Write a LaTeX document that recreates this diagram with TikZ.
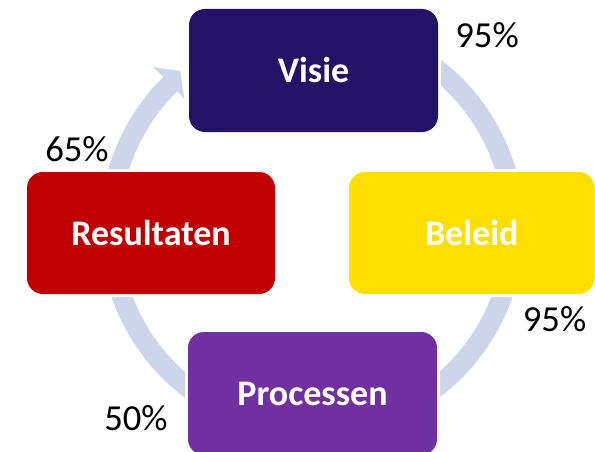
\documentclass[tikz,border=0pt]{standalone}
\usepackage{fontspec}
\setmainfont{Carlito}
\definecolor{visiec}{HTML}{231366}
\definecolor{resc}{HTML}{C00000}
\definecolor{beleidc}{HTML}{FFDF00}
\definecolor{procc}{HTML}{7030A0}
\definecolor{ringc}{HTML}{CED5EA}
\begin{document}
\begin{tikzpicture}[x=0.75pt,y=0.75pt,
  stagebox/.style={rounded corners=12pt, fill=#1, inner sep=0pt,
    preaction={draw=white, line width=4.5pt},
    text=white, font=\fontsize{27}{31}\selectfont\bfseries},
  pct/.style={inner sep=0pt, text=black, font=\fontsize{27.5}{32}\selectfont}]
\useasboundingbox (0,0) rectangle (595,451);
% ring with arrowhead
\fill[ringc, shift={(312,223)}] (100:212) arc[start angle=100, end angle=-225.4, radius=212]
  -- (134.6:226) -- (130:205) -- (134.6:182) -- (134.6:192)
  arc[start angle=-225.4, end angle=100, radius=192] -- cycle;
% boxes
\node[stagebox=visiec, minimum width=249*0.75pt, minimum height=123*0.75pt] (visie) at (313.5,380.5) {Visie};
\node[stagebox=resc, minimum width=248*0.75pt, minimum height=122*0.75pt] (res) at (151,218) {Resultaten};
\node[stagebox=beleidc, minimum width=245.5*0.75pt, minimum height=122*0.75pt] (beleid) at (471.75,218) {Beleid};
\node[stagebox=procc, minimum width=249*0.75pt, minimum height=123*0.75pt] (proc) at (312.5,57.5) {Processen};
% labels
\node[pct] (l1) at (487,415.5) {95\%};
\node[pct] (l2) at (554.5,131.5) {95\%};
\node[pct] (l3) at (77,301.5) {65\%};
\node[pct] (l4) at (136,32.5) {50\%};
\end{tikzpicture}
\end{document}
